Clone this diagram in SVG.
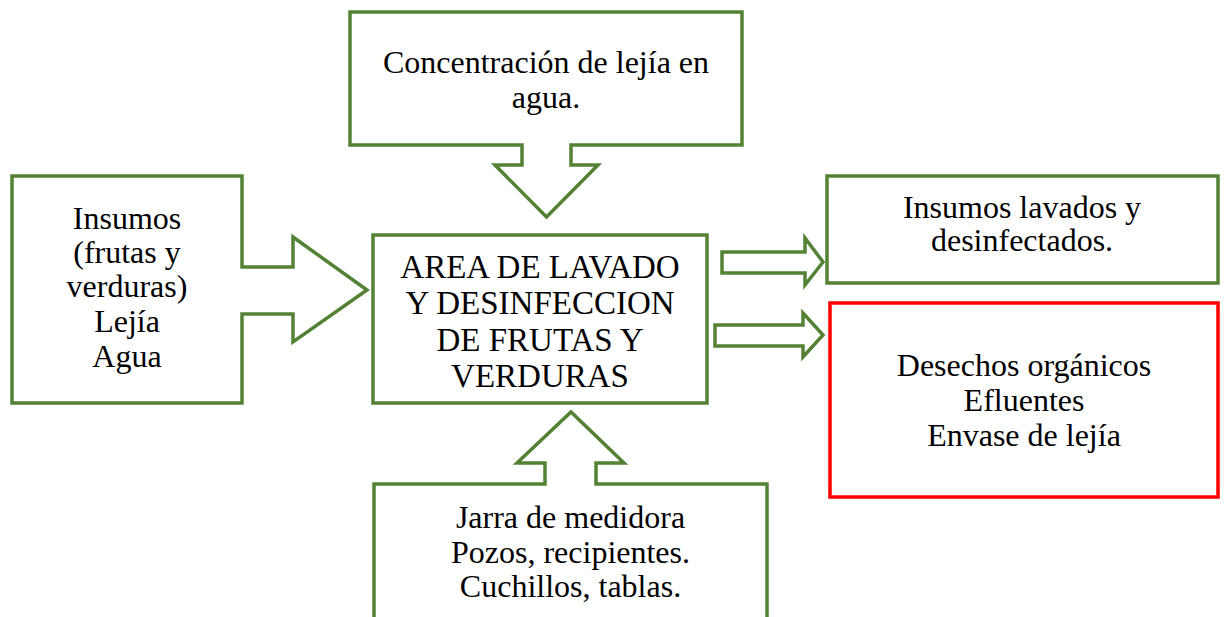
<svg xmlns="http://www.w3.org/2000/svg" width="1224" height="617" viewBox="0 0 1224 617">
<style>
.g{fill:#fff;stroke:#548235;stroke-width:3.5;stroke-linejoin:miter}
.r{fill:#fff;stroke:#ff0000;stroke-width:3.5}
text{font-family:"Liberation Serif","Times New Roman",serif;font-size:32px;fill:#000;text-anchor:middle}
.big{font-size:33px}
</style>
<rect width="1224" height="617" fill="#fff"/>
<g id="top">
<path class="g" d="M350,12 H742 V145 H571 V165 H598 L546.5,217 L495,165 H522 V145 H350 Z"/>
<text x="546" y="73">Concentración de lejía en</text>
<text x="546" y="108">agua.</text>
</g>
<g id="left">
<path class="g" d="M12,176 H242 V267 H293 V237 L367,290 L293,342 V314 H242 V403 H12 Z"/>
<text x="127" y="229">Insumos</text>
<text x="127" y="263">(frutas y</text>
<text x="127" y="297">verduras)</text>
<text x="127" y="332">Lejía</text>
<text x="127" y="367">Agua</text>
</g>
<g id="bottom">
<path class="g" d="M374,625 V484 H545 V463 H517 L571,412 L624,463 H596 V484 H767 V625"/>
<text x="570.5" y="528">Jarra de medidora</text>
<text x="570.5" y="563">Pozos, recipientes.</text>
<text x="570.5" y="597">Cuchillos, tablas.</text>
</g>
<g id="center">
<rect class="g" x="373" y="235" width="334" height="168"/>
<text class="big" x="540" y="278">AREA DE LAVADO</text>
<text class="big" x="540" y="314">Y DESINFECCION</text>
<text class="big" x="540" y="351">DE FRUTAS Y</text>
<text class="big" x="540" y="387">VERDURAS</text>
</g>
<g id="connectors">
<path class="g" d="M722,252 H805 V238 L823,262 L805,285 V273 H722 Z"/>
<path class="g" d="M715,325 H803 V313 L823,335 L803,357 V346 H715 Z"/>
</g>
<g id="output1">
<rect class="g" x="827" y="176" width="391" height="107"/>
<text x="1022" y="218">Insumos lavados y</text>
<text x="1022" y="251">desinfectados.</text>
</g>
<g id="output2">
<rect class="r" x="830" y="303" width="388" height="194"/>
<text x="1024" y="376">Desechos orgánicos</text>
<text x="1024" y="411">Efluentes</text>
<text x="1024" y="446">Envase de lejía</text>
</g>
</svg>
